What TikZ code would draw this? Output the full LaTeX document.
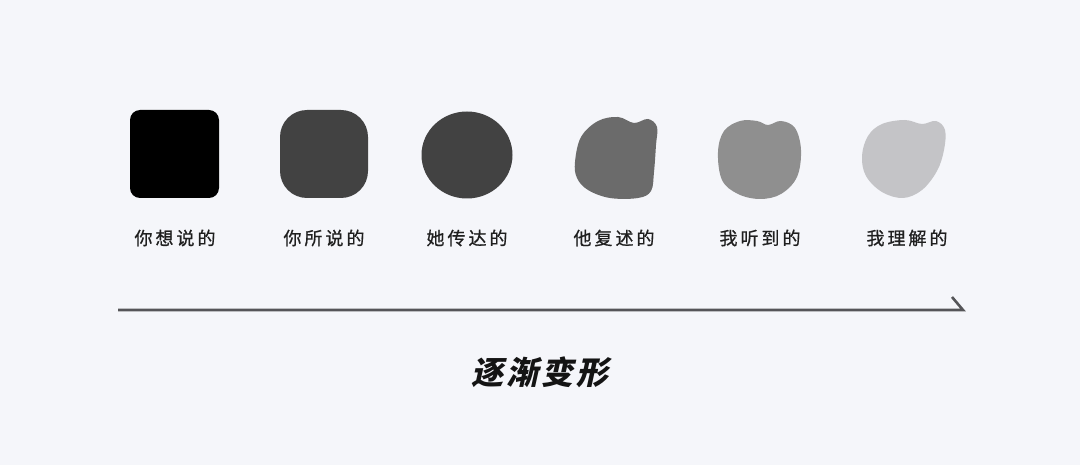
\documentclass[tikz,border=0pt]{standalone}
\usepackage{fontspec}
\newfontfamily\cjk{Noto Sans CJK SC}[FakeBold=0.8]
\newfontfamily\cjkslant{Noto Sans CJK SC}[FakeSlant=0.22]
\newcommand\spaced[4]{#1\kern#4#2\kern#4#3}
\definecolor{bg}{HTML}{F5F6FA}
\definecolor{g1}{HTML}{000000}
\definecolor{g2}{HTML}{424242}
\definecolor{g3}{HTML}{424242}
\definecolor{g4}{HTML}{6B6B6B}
\definecolor{g5}{HTML}{8F8F8F}
\definecolor{g6}{HTML}{C4C4C7}
\definecolor{linec}{HTML}{555558}
\tikzset{
  lbl/.style={font=\cjk\fontsize{18}{20}\selectfont, text=black!88, inner sep=0pt},
  ttl/.style={font=\cjkslant\bfseries\fontsize{32}{36}\selectfont, text=black!92, inner sep=0pt},
  axis/.style={draw=linec, line width=2.6pt, line cap=butt, line join=miter}
}
\newcommand\lblspace{\kern3pt}
\newcommand\ttlspace{\kern3pt}
\begin{document}
\begin{tikzpicture}[x=1pt,y=-1pt]
\fill[bg] (0,0) rectangle (1080,465);
\useasboundingbox (0,0) rectangle (1080,465);
% shapes
\fill[g1, rounded corners=10pt] (130,110) rectangle (219,198);
\fill[g2, rounded corners=27pt] (280,110) rectangle (368,198);
\fill[g3] (467,155) ellipse [x radius=45.5, y radius=43.5];
\fill[g4] plot[smooth cycle, tension=0.6] coordinates {(575,162) (581,137) (598,121) (618,117) (634,123) (648,119) (657,127) (656,145) (654,172) (651,191) (638,198) (610,198) (588,190) (577,178)};
\fill[g5] plot[smooth cycle, tension=0.6] coordinates {(718,152) (724,131) (740,121) (757,121) (768,125) (781,121) (795,128) (801,150) (797,177) (781,194) (760,199) (738,194) (722,180)};
\fill[g6] plot[smooth cycle, tension=0.6] coordinates {(862,156) (868,136) (882,124) (905,120) (922,124) (936,121) (945,130) (944,150) (937,171) (922,190) (903,198) (882,192) (866,176)};
% labels
\node[lbl] (l1) at (175,238) {你\lblspace 想\lblspace 说\lblspace 的};
\node[lbl] (l2) at (324,238) {你\lblspace 所\lblspace 说\lblspace 的};
\node[lbl] (l3) at (467,238) {她\lblspace 传\lblspace 达\lblspace 的};
\node[lbl] (l4) at (614,238) {他\lblspace 复\lblspace 述\lblspace 的};
\node[lbl] (l5) at (760,238) {我\lblspace 听\lblspace 到\lblspace 的};
\node[lbl] (l6) at (907,238) {我\lblspace 理\lblspace 解\lblspace 的};
% axis
\coordinate (a0) at (118,310);
\coordinate (a1) at (963,310);
\coordinate (ah) at (952,297);
\draw[axis] (a0) -- (a1) -- (ah);
\node[ttl] (t) at (540,372) {逐\ttlspace 渐\ttlspace 变\ttlspace 形};
\end{tikzpicture}
\end{document}
